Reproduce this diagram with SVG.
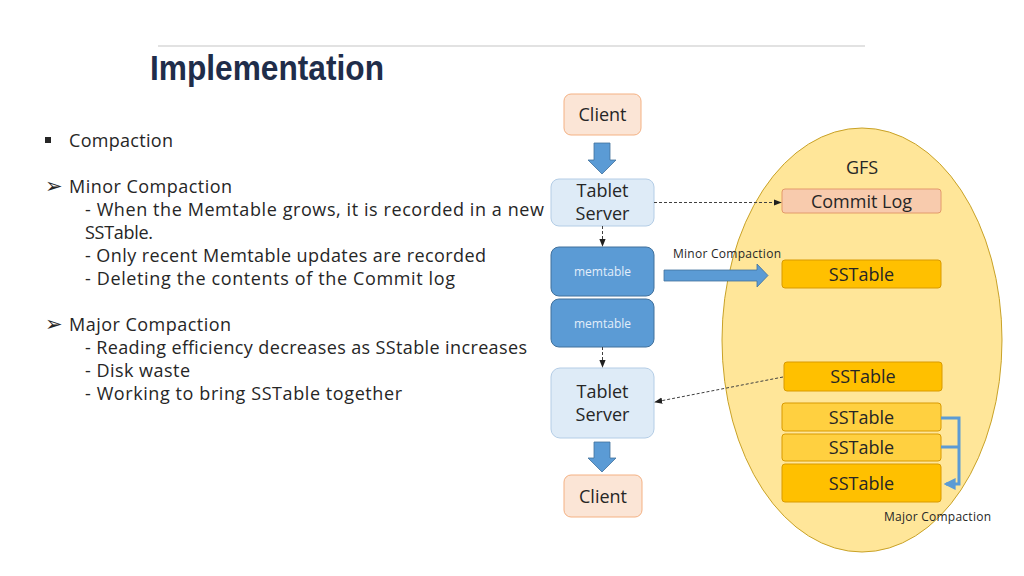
<svg xmlns="http://www.w3.org/2000/svg" width="1024" height="576" viewBox="0 0 1024 576">
<style>
.t{font-family:"Open Sans","Noto Sans",sans-serif;fill:#262626}
.b{font-size:18px}
.c{font-size:18px;text-anchor:middle}
.s{font-size:12px}
.ar{font-family:"DejaVu Sans",sans-serif;font-size:21px;fill:#262626}
.ts{fill:#deebf7;stroke:#b4cde6;stroke-width:1}
.cl{fill:#fbe5d6;stroke:#f4b183;stroke-width:1}
.mt{fill:#5b9bd5;stroke:#41719c;stroke-width:1}
.ss{fill:#ffc000;stroke:#d99a00;stroke-width:1}
.ssl{fill:#ffd040;stroke:#d99a00;stroke-width:1}
.blk{fill:#5b9bd5;stroke:#41719c;stroke-width:0.8}
.dash{fill:none;stroke:#404040;stroke-width:1;stroke-dasharray:3 2}
</style>
<defs>
<marker id="ah" viewBox="0 0 10 10" refX="9" refY="5" markerWidth="8" markerHeight="8" markerUnits="userSpaceOnUse" orient="auto">
<path d="M0,1 L10,5 L0,9 Z" fill="#202020"/>
</marker>
<marker id="bh" viewBox="0 0 10 10" refX="8" refY="5" markerWidth="12" markerHeight="12" markerUnits="userSpaceOnUse" orient="auto">
<path d="M0,0 L10,5 L0,10 Z" fill="#5b9bd5"/>
</marker>
</defs>
<rect width="1024" height="576" fill="#ffffff"/>
<line x1="158" y1="46" x2="865" y2="46" stroke="#d9d9d9" stroke-width="1.5"/>
<text x="150" y="80" font-family="'Liberation Sans',Arial,sans-serif" font-weight="bold" font-size="35" fill="#1f2d4a" textLength="234" lengthAdjust="spacingAndGlyphs">Implementation</text>

<g id="bullets">
<rect x="45" y="137" width="6" height="6" fill="#262626"/>
<text class="ar" x="45" y="193">➢</text>
<text class="ar" x="45" y="331">➢</text>
<text class="t b" x="69" y="147" textLength="104">Compaction</text>
<text class="t b" x="69" y="193" textLength="163">Minor Compaction</text>
<text class="t b" x="85" y="216" textLength="459">- When the Memtable grows, it is recorded in a new</text>
<text class="t b" x="85" y="239" textLength="68">SSTable.</text>
<text class="t b" x="85" y="262" textLength="401">- Only recent Memtable updates are recorded</text>
<text class="t b" x="85" y="285" textLength="370">- Deleting the contents of the Commit log</text>
<text class="t b" x="69" y="331" textLength="162">Major Compaction</text>
<text class="t b" x="85" y="354" textLength="442">- Reading efficiency decreases as SStable increases</text>
<text class="t b" x="85" y="377" textLength="105">- Disk waste</text>
<text class="t b" x="85" y="400" textLength="317">- Working to bring SSTable together</text>
</g>

<g id="gfs">
<ellipse cx="862" cy="340" rx="140" ry="212" fill="#ffe699" stroke="#c9a227" stroke-width="1"/>
<text class="t c" x="862" y="174">GFS</text>
</g>

<g id="client-top">
<rect class="cl" x="564" y="94" width="77" height="41" rx="7"/>
<text class="t c" x="602.5" y="121">Client</text>
</g>
<g id="tablet-server-top">
<rect class="ts" x="551" y="179" width="103" height="47" rx="8"/>
<text class="t c" x="602.5" y="197">Tablet</text>
<text class="t c" x="602.5" y="220">Server</text>
</g>
<g id="memtable-1">
<rect class="mt" x="551" y="247" width="103" height="49" rx="8"/>
<text class="t s" x="602.5" y="276" text-anchor="middle" style="fill:#e3eefa">memtable</text>
</g>
<g id="memtable-2">
<rect class="mt" x="551" y="299" width="103" height="48" rx="8"/>
<text class="t s" x="602.5" y="328" text-anchor="middle" style="fill:#e3eefa">memtable</text>
</g>
<g id="tablet-server-bottom">
<rect class="ts" x="551" y="368" width="103" height="70" rx="9"/>
<text class="t c" x="602.5" y="398">Tablet</text>
<text class="t c" x="602.5" y="421">Server</text>
</g>
<g id="client-bottom">
<rect class="cl" x="564" y="475" width="78" height="42" rx="7"/>
<text class="t c" x="603" y="503">Client</text>
</g>
<g id="commit-log">
<rect x="782" y="189" width="159" height="24" rx="3" fill="#f8cbad" stroke="#e39a6a" stroke-width="1"/>
<text class="t c" x="861.5" y="208">Commit Log</text>
</g>
<g id="sstable-1">
<rect class="ss" x="782" y="260" width="159" height="28" rx="3"/>
<text class="t c" x="861.5" y="281">SSTable</text>
</g>
<g id="sstable-2">
<rect class="ss" x="784" y="362" width="158" height="29" rx="3"/>
<text class="t c" x="863" y="383">SSTable</text>
</g>
<g id="sstable-3">
<rect class="ssl" x="782" y="403" width="159" height="28" rx="3"/>
<text class="t c" x="861.5" y="424">SSTable</text>
</g>
<g id="sstable-4">
<rect class="ssl" x="782" y="434" width="159" height="27" rx="3"/>
<text class="t c" x="861.5" y="454">SSTable</text>
</g>
<g id="sstable-5">
<rect class="ss" x="782" y="464" width="159" height="38" rx="3"/>
<text class="t c" x="861.5" y="490">SSTable</text>
</g>

<g id="connectors">
<path class="blk" d="M594,143 H610 V160 H616 L602,174 L588,160 H594 Z"/>
<path class="blk" d="M594,442 H610 V458 H616 L602,472 L588,458 H594 Z"/>
<path class="blk" d="M664,270 H757 V264 L768,275.5 L757,287 V281 H664 Z"/>
<text class="t s" x="673" y="258" textLength="108">Minor Compaction</text>
<line class="dash" x1="654" y1="202.5" x2="781" y2="202.5" marker-end="url(#ah)"/>
<line class="dash" x1="602.5" y1="226" x2="602.5" y2="246" marker-end="url(#ah)"/>
<line class="dash" x1="602.5" y1="347" x2="602.5" y2="367" marker-end="url(#ah)"/>
<line class="dash" x1="783" y1="377" x2="655" y2="402" marker-end="url(#ah)"/>
<path d="M941,418 H959 V484 H946" fill="none" stroke="#5b9bd5" stroke-width="3" marker-end="url(#bh)"/>
<line x1="941" y1="447" x2="959" y2="447" stroke="#5b9bd5" stroke-width="3"/>
<text class="t s" x="884" y="521" textLength="107">Major Compaction</text>
</g>
</svg>
